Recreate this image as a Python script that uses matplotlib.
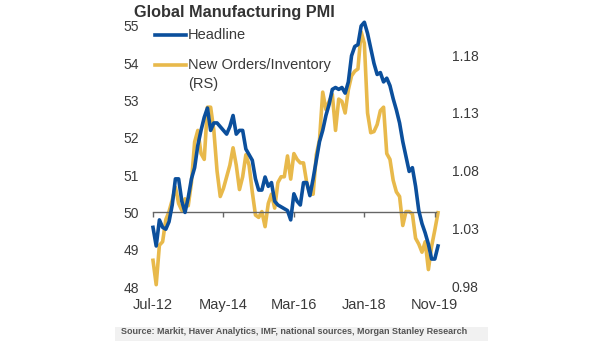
import numpy as np
import pandas as pd
import matplotlib
matplotlib.use("Agg")
import matplotlib.pyplot as plt
from matplotlib.lines import Line2D
from matplotlib.patches import Rectangle

plt.rcParams['font.family'] = ['Liberation Sans', 'DejaVu Sans']

# monthly series, Jul-2012 .. Dec-2019
months = pd.date_range("2012-07-01", periods=90, freq="MS")

headline = [49.6, 49.1, 49.8, 49.6, 49.55, 49.75, 50.2, 50.9, 50.9, 50.3,
            50.0, 50.4, 50.9, 51.2, 51.8, 52.2, 52.55, 52.8, 52.2, 52.4,
            52.4, 52.3, 52.2, 52.1, 52.3, 52.6, 52.1, 52.2, 52.2, 51.7,
            51.55, 51.4, 50.9, 50.6, 50.6, 50.95, 50.7, 50.8, 50.3, 50.2,
            50.15, 50.1, 50.05, 49.8, 50.5, 50.3, 50.2, 50.8, 50.8, 50.45,
            50.9, 51.4, 51.9, 52.2, 52.6, 52.9, 53.3, 53.35, 53.3, 53.35,
            53.2, 53.5, 54.2, 54.45, 54.5, 55.0, 55.1, 54.8, 54.4, 54.0,
            53.7, 53.75, 53.5, 53.6, 53.4, 53.05, 52.75, 52.4, 51.9, 51.5,
            51.1, 51.2, 50.7, 50.05, 49.7, 49.45, 49.15, 48.75, 48.75, 49.1]

orders_inv = [1.003, 0.982, 1.016, 1.019, 1.038, 1.045, 1.055, 1.066, 1.052, 1.046,
              1.056, 1.050, 1.070, 1.105, 1.115, 1.095, 1.090, 1.135, 1.135, 1.115,
              1.080, 1.058, 1.065, 1.075, 1.085, 1.100, 1.085, 1.064, 1.075, 1.094,
              1.085, 1.062, 1.042, 1.040, 1.045, 1.032, 1.052, 1.060, 1.048, 1.070,
              1.075, 1.075, 1.093, 1.073, 1.095, 1.090, 1.087, 1.087, 1.070, 1.060,
              1.060, 1.094, 1.107, 1.148, 1.133, 1.140, 1.146, 1.115, 1.142, 1.140,
              1.130, 1.150, 1.162, 1.166, 1.168, 1.200, 1.190, 1.130, 1.113, 1.114,
              1.120, 1.132, 1.135, 1.095, 1.090, 1.072, 1.062, 1.058, 1.033, 1.045,
              1.045, 1.043, 1.022, 1.017, 1.010, 1.019, 0.995, 1.015, 1.029, 1.044]

left_ticks = [48, 49, 50, 51, 52, 53, 54, 55]
right_ticks = [0.98, 1.03, 1.08, 1.13, 1.18]
x_tick_pos = [0, 22, 44, 66, 88]
x_tick_labels = [months[i].strftime("%b-%y") for i in x_tick_pos]

BLUE = "#0b4f9c"
GOLD = "#e8b94b"
TXT = "#3a3a3a"
LW = 2.6

fig = plt.figure(figsize=(6.05, 3.41), dpi=100)
ax = fig.add_axes([153 / 605, 1 - 290 / 341, 285 / 605, 272 / 341])
ax2 = ax.twinx()

x = np.arange(len(months))
ax2.plot(x, orders_inv, color=GOLD, lw=LW, clip_on=False, zorder=2)
ax.plot(x, headline, color=BLUE, lw=LW, clip_on=False, zorder=3)
ax.set_zorder(ax2.get_zorder() + 1)
ax.patch.set_visible(False)

ax.set_xlim(0, 89)
ax.set_ylim(47.92, 55.214)
ax2.set_ylim(0.9774, 1.2119)

for a in (ax, ax2):
    for s in a.spines.values():
        s.set_visible(False)

# x axis sits on the 50 line
ax.spines['bottom'].set_visible(True)
ax.spines['bottom'].set_position(('data', 50))
ax.spines['bottom'].set_color("#666666")
ax.spines['bottom'].set_linewidth(1.0)
ax.spines['bottom'].set_bounds(0, 88.5)
ax.set_xticks(x_tick_pos)
ax.set_xticklabels(x_tick_labels)
ax.tick_params(axis='x', direction='out', length=3.5, width=1.0, color="#666666",
               pad=58, labelsize=10.5, labelcolor=TXT)

ax.set_yticks(left_ticks)
ax.tick_params(axis='y', length=0, pad=10, labelsize=10, labelcolor=TXT)
ax2.set_yticks(right_ticks)
ax2.set_yticklabels([f"{v:.2f}" for v in right_ticks])
ax2.tick_params(axis='y', length=0, pad=10, labelsize=10, labelcolor=TXT)

fig.text(134 / 605, 1 - 12 / 341, "Global Manufacturing PMI", fontsize=11.7,
         fontweight='bold', color="#333333", va='center', ha='left')

# legend
fig.add_artist(Line2D([155 / 605, 186 / 605], [1 - 35 / 341] * 2, color=BLUE, lw=LW))
fig.text(188 / 605, 1 - 35 / 341, "Headline", fontsize=10.5, color=TXT, va='center')
fig.add_artist(Line2D([155 / 605, 186 / 605], [1 - 65 / 341] * 2, color=GOLD, lw=LW))
fig.text(188 / 605, 1 - 65 / 341, "New Orders/Inventory", fontsize=10.5, color=TXT, va='center')
fig.text(188 / 605, 1 - 84 / 341, "(RS)", fontsize=10.5, color=TXT, va='center')

# source strip
fig.add_artist(Rectangle((115 / 605, 0), 373 / 605, 14 / 341, transform=fig.transFigure,
                         facecolor="#f1f1f1", edgecolor='none', zorder=0))
fig.text(121 / 605, 1 - 332 / 341,
         "Source: Markit, Haver Analytics, IMF, national sources, Morgan Stanley Research",
         fontsize=6.5, fontweight='bold', color="#555555", va='center', ha='left')

fig.savefig("out.png", dpi=100)
